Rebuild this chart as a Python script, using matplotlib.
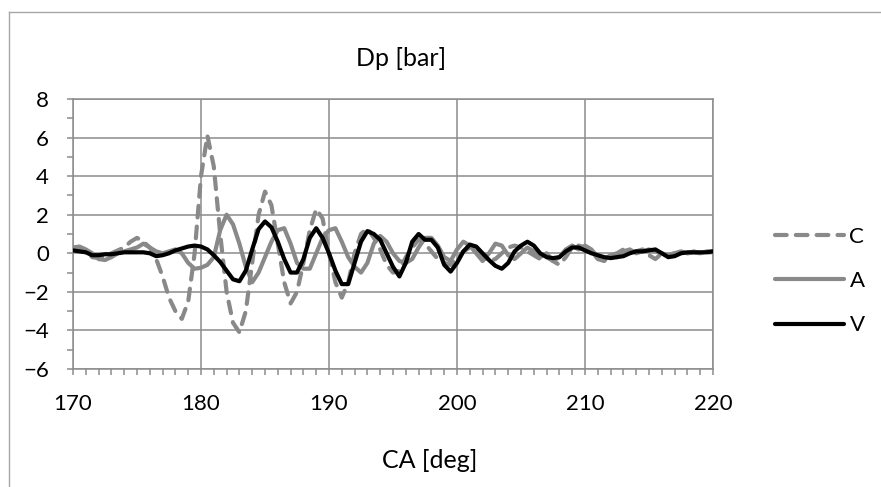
import matplotlib
matplotlib.use("Agg")
import matplotlib.pyplot as plt
from matplotlib.ticker import MultipleLocator
from matplotlib.lines import Line2D

plt.rcParams['font.family'] = ['Lato', 'DejaVu Sans']

ca = [170.0, 170.5, 171.0, 171.5, 172.0, 172.5, 173.0, 173.5, 174.0, 174.5,
      175.0, 175.5, 176.0, 176.5, 177.0, 177.5, 178.0, 178.5, 179.0, 179.5,
      180.0, 180.5, 181.0, 181.5, 182.0, 182.5, 183.0, 183.5, 184.0, 184.5,
      185.0, 185.5, 186.0, 186.5, 187.0, 187.5, 188.0, 188.5, 189.0, 189.5,
      190.0, 190.5, 191.0, 191.5, 192.0, 192.5, 193.0, 193.5, 194.0, 194.5,
      195.0, 195.5, 196.0, 196.5, 197.0, 197.5, 198.0, 198.5, 199.0, 199.5,
      200.0, 200.5, 201.0, 201.5, 202.0, 202.5, 203.0, 203.5, 204.0, 204.5,
      205.0, 205.5, 206.0, 206.5, 207.0, 207.5, 208.0, 208.5, 209.0, 209.5,
      210.0, 210.5, 211.0, 211.5, 212.0, 212.5, 213.0, 213.5, 214.0, 214.5,
      215.0, 215.5, 216.0, 216.5, 217.0, 217.5, 218.0, 218.5, 219.0, 219.5,
      220.0]

dp_C = [0.3, 0.25, 0.15, -0.2, -0.25, -0.15, 0.0, 0.15, 0.3, 0.6,
        0.8, 0.6, 0.3, -0.3, -1.2, -2.3, -3.0, -3.4, -2.5, 0.0,
        4.0, 6.1, 4.5, 1.0, -2.0, -3.6, -4.1, -3.0, -0.5, 2.0,
        3.2, 2.5, 0.5, -1.5, -2.6, -2.0, -0.5, 1.2, 2.3, 1.8,
        0.0, -1.5, -2.3, -1.5, 0.0, 1.0, 1.3, 0.8, 0.2, -0.6,
        -1.0, -0.9, -0.2, 0.3, 0.7, 0.5, 0.1, -0.3, -0.5, -0.6,
        -0.3, 0.1, 0.3, 0.1, -0.2, -0.4, -0.3, 0.0, 0.3, 0.4,
        0.3, 0.1, -0.1, -0.3, -0.2, -0.4, -0.6, -0.2, 0.3, 0.4,
        0.3, 0.1, -0.3, -0.4, -0.1, 0.0, 0.2, 0.1, 0.1, 0.2,
        -0.1, -0.3, 0.0, -0.1, 0.0, 0.05, 0.0, 0.05, 0.0, 0.05,
        0.05]

dp_A = [0.3, 0.35, 0.2, 0.0, -0.3, -0.35, -0.2, 0.0, 0.1, 0.2,
        0.3, 0.5, 0.3, 0.1, 0.0, 0.1, 0.2, 0.0, -0.5, -0.8,
        -0.75, -0.6, -0.2, 1.2, 2.0, 1.5, 0.5, -0.7, -1.5, -1.0,
        -0.2, 0.6, 1.2, 1.3, 0.5, -0.5, -0.8, -0.8, 0.0, 0.8,
        1.2, 1.3, 0.6, -0.2, -0.7, -1.0, -0.5, 0.5, 0.9, 0.6,
        0.0, -0.4, -0.5, -0.3, 0.3, 0.8, 0.8, 0.4, -0.2, -0.4,
        0.2, 0.6, 0.4, 0.0, -0.4, 0.0, 0.5, 0.4, -0.1, -0.3,
        0.0, 0.3, 0.1, -0.2, 0.0, -0.4, -0.2, 0.2, 0.4, 0.2,
        0.4, 0.2, -0.2, -0.3, -0.1, -0.2, 0.1, 0.2, 0.0, 0.1,
        0.2, 0.1, 0.0, -0.1, 0.0, 0.1, 0.0, 0.1, 0.0, 0.1,
        0.1]

dp_V = [0.15, 0.1, 0.05, -0.1, -0.1, -0.05, -0.05, 0.0, 0.05, 0.05,
        0.05, 0.05, 0.0, -0.15, -0.1, 0.0, 0.15, 0.25, 0.35, 0.4,
        0.35, 0.2, -0.1, -0.45, -0.9, -1.35, -1.45, -0.9, 0.2, 1.25,
        1.65, 1.35, 0.6, -0.3, -1.0, -1.0, -0.3, 0.8, 1.3, 0.8,
        0.0, -0.9, -1.6, -1.6, -0.5, 0.6, 1.15, 1.0, 0.7, 0.0,
        -0.7, -1.2, -0.5, 0.6, 1.0, 0.7, 0.7, 0.3, -0.6, -0.95,
        -0.5, 0.1, 0.45, 0.35, 0.0, -0.35, -0.65, -0.8, -0.5, 0.1,
        0.4, 0.6, 0.4, 0.0, -0.2, -0.25, -0.2, 0.1, 0.3, 0.3,
        0.15, 0.0, -0.1, -0.2, -0.25, -0.2, -0.15, 0.0, 0.1, 0.1,
        0.15, 0.2, 0.0, -0.2, -0.15, 0.0, 0.05, 0.05, 0.05, 0.05,
        0.1]

series_labels = ["C", "A", "V"]
x_ticks = [170, 180, 190, 200, 210, 220]
y_ticks = [-6, -4, -2, 0, 2, 4, 6, 8]

W, H = 881, 487
fig = plt.figure(figsize=(W / 100, H / 100), dpi=100)
ax = fig.add_axes([73 / W, 1 - 369 / H, (713 - 73) / W, (369 - 99) / H])

gray = '#898989'
grid_c = '#8c8c8c'
fs = 16
fs_title = 18

ax.plot(ca, dp_C, color=gray, lw=3.0, linestyle=(0, (2.8, 2.2)),
        dash_capstyle='round', solid_joinstyle='round', label=series_labels[0], zorder=3)
ax.plot(ca, dp_A, color=gray, lw=3.0, solid_joinstyle='round',
        solid_capstyle='round', label=series_labels[1], zorder=4)
ax.plot(ca, dp_V, color='black', lw=3.0, solid_joinstyle='round',
        solid_capstyle='round', label=series_labels[2], zorder=5)

ax.set_xlim(170, 220)
ax.set_ylim(-6, 8)
ax.set_xticks(x_ticks)
ax.set_yticks(y_ticks)
ax.xaxis.set_minor_locator(MultipleLocator(1))
ax.yaxis.set_minor_locator(MultipleLocator(1))
ax.grid(True, which='major', color=grid_c, lw=1.1, zorder=1)
for s in ax.spines.values():
    s.set_color(grid_c)
    s.set_linewidth(1.1)
ax.tick_params(which='major', direction='out', length=4.3, width=1.1, color=grid_c,
               labelsize=fs, pad=13)
ax.tick_params(which='minor', direction='out', length=4.3, width=1.1, color=grid_c)
ax.tick_params(axis='x', which='major', pad=13.5)

fig.text(401 / W, 1 - 58 / H, "Dp [bar]", ha='center', va='center', fontsize=fs_title)
fig.text(430 / W, 1 - 461 / H, "CA [deg]", ha='center', va='center', fontsize=fs_title)

handles = [Line2D([], [], color=gray, lw=3.0, linestyle=(0, (2.8, 2.2)), dash_capstyle='round'),
           Line2D([], [], color=gray, lw=3.0, solid_capstyle='round'),
           Line2D([], [], color='black', lw=3.0, solid_capstyle='round')]
fig.legend(handles, series_labels, loc='center left', bbox_to_anchor=(775 / W, 1 - 281 / H),
           frameon=False, fontsize=fs, handlelength=3.1, handletextpad=0.25,
           labelspacing=1.1, borderpad=0, borderaxespad=0)

# outer chart frame (partially cropped)
fig.add_artist(Line2D([9 / W, 9 / W], [0, 1 - 12 / H], transform=fig.transFigure,
                      color='#a6a6a6', lw=1.0))
fig.add_artist(Line2D([9 / W, 1], [1 - 12 / H, 1 - 12 / H], transform=fig.transFigure,
                      color='#a6a6a6', lw=1.0))

fig.savefig("out.png", dpi=100)
